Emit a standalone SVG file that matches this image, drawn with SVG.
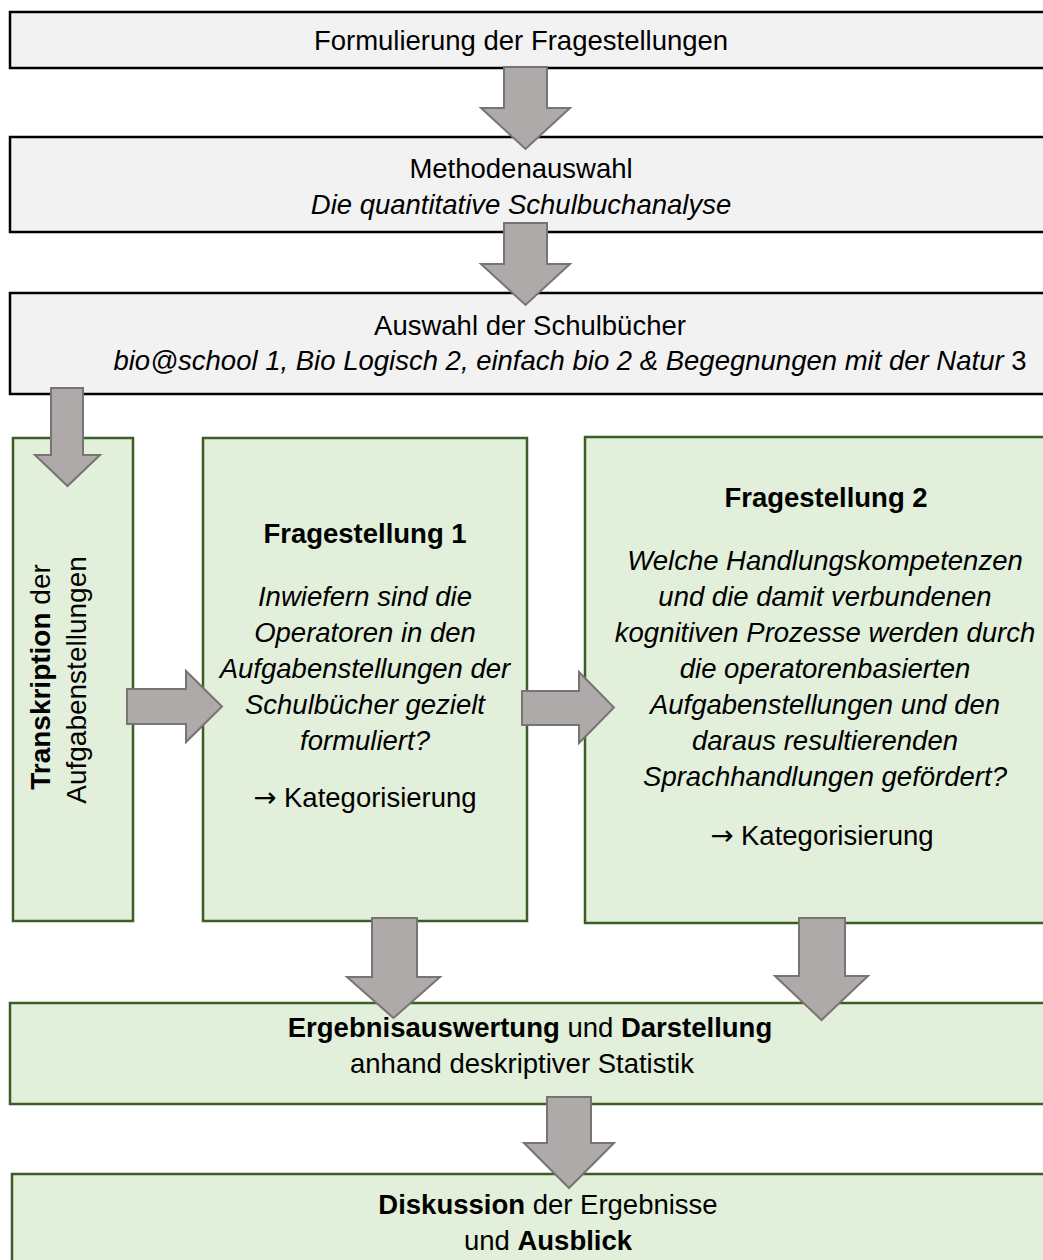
<svg xmlns="http://www.w3.org/2000/svg" width="1043" height="1260" viewBox="0 0 1043 1260">
<style>
text{font-family:"Liberation Sans",Arial,sans-serif;font-size:27.5px;fill:#000;text-anchor:middle}
.gray{fill:#f2f2f2;stroke:#000;stroke-width:2.5}
.green{fill:#e2efda;stroke:#3b5e27;stroke-width:2.5}
.arrow{fill:#aeaaaa;stroke:#787474;stroke-width:2}
.it{font-style:italic}
.b{font-weight:bold}
.sym{font-family:"DejaVu Sans",sans-serif}
</style>
<rect width="1043" height="1260" fill="#fff"/>
<g id="node-formulierung">
<rect class="gray" x="10" y="12" width="1060" height="56"/>
<text x="521" y="50">Formulierung der Fragestellungen</text>
</g>
<g id="node-methodenauswahl">
<rect class="gray" x="10" y="137" width="1060" height="95"/>
<text x="521" y="178">Methodenauswahl</text>
<text x="521" y="214" class="it">Die quantitative Schulbuchanalyse</text>
</g>
<g id="node-schulbuecher">
<rect class="gray" x="10" y="293" width="1060" height="101"/>
<text x="530" y="335">Auswahl der Schulbücher</text>
<text x="570" y="370"><tspan class="it">bio@school 1, Bio Logisch 2, einfach bio 2 &amp; Begegnungen mit der Natur</tspan> 3</text>
</g>
<g id="node-transkription">
<rect class="green" x="13" y="438" width="120" height="483"/>
<text transform="translate(50 677) rotate(-90)" style="font-size:28px"><tspan class="b">Transkription</tspan> der</text>
<text transform="translate(86 680) rotate(-90)" style="font-size:28px">Aufgabenstellungen</text>
</g>
<g id="node-fragestellung1">
<rect class="green" x="203" y="438" width="324" height="483"/>
<text x="365" y="543" class="b">Fragestellung 1</text>
<text x="365" y="606" class="it">Inwiefern sind die</text>
<text x="365" y="642" class="it">Operatoren in den</text>
<text x="365" y="678" class="it">Aufgabenstellungen der</text>
<text x="365" y="714" class="it">Schulbücher gezielt</text>
<text x="365" y="750" class="it">formuliert?</text>
<text x="365" y="807"><tspan class="sym">→</tspan> Kategorisierung</text>
</g>
<g id="node-fragestellung2">
<rect class="green" x="585" y="437" width="480" height="486"/>
<text x="826" y="507" class="b">Fragestellung 2</text>
<text x="825" y="570" class="it">Welche Handlungskompetenzen</text>
<text x="825" y="606" class="it">und die damit verbundenen</text>
<text x="825" y="642" class="it">kognitiven Prozesse werden durch</text>
<text x="825" y="678" class="it">die operatorenbasierten</text>
<text x="825" y="714" class="it">Aufgabenstellungen und den</text>
<text x="825" y="750" class="it">daraus resultierenden</text>
<text x="825" y="786" class="it">Sprachhandlungen gefördert?</text>
<text x="822" y="845"><tspan class="sym">→</tspan> Kategorisierung</text>
</g>
<g id="node-ergebnis">
<rect class="green" x="10" y="1003" width="1060" height="101"/>
<text x="530" y="1037"><tspan class="b">Ergebnisauswertung</tspan> und <tspan class="b">Darstellung</tspan></text>
<text x="522" y="1073">anhand deskriptiver Statistik</text>
</g>
<g id="node-diskussion">
<rect class="green" x="12" y="1174" width="1060" height="100"/>
<text x="548" y="1214"><tspan class="b">Diskussion</tspan> der Ergebnisse</text>
<text x="548" y="1250">und <tspan class="b">Ausblick</tspan></text>
</g>
<g id="connectors">
<polygon class="arrow" points="504,67 547,67 547,108 570,108 525.5,149 481,108 504,108"/>
<polygon class="arrow" points="504,223 547,223 547,264 570,264 525.5,305 481,264 504,264"/>
<polygon class="arrow" points="51,388 83,388 83,455 100,455 67.5,486 35,455 51,455"/>
<polygon class="arrow" points="127,689 186,689 186,671 222,706.5 186,742 186,724 127,724"/>
<polygon class="arrow" points="522,691 579,691 579,672 614,707.5 579,743 579,725 522,725"/>
<polygon class="arrow" points="372,918 417,918 417,977 440,977 393.5,1018 347,977 372,977"/>
<polygon class="arrow" points="799,918 845,918 845,976 868,976 821.5,1020 775,976 799,976"/>
<polygon class="arrow" points="547,1097 591,1097 591,1143 614,1143 569,1188 524,1143 547,1143"/>
</g>
</svg>
